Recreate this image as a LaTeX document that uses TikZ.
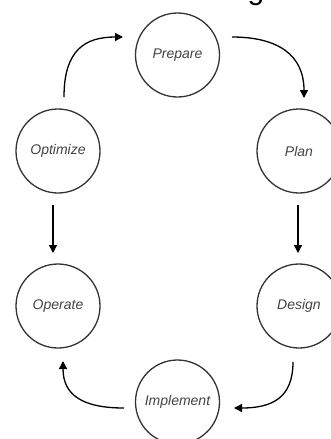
\documentclass[tikz,border=0pt]{standalone}
\usepackage{fontspec}
\setmainfont{Liberation Sans}
\usetikzlibrary{arrows.meta}
\definecolor{ringgray}{HTML}{333333}
\definecolor{textgray}{HTML}{444444}
\tikzset{
  stage/.style={circle, draw=ringgray, line width=1.3pt, minimum size=84pt, inner sep=0pt,
    text=textgray, font=\fontsize{14}{16}\selectfont\itshape},
  flow/.style={draw=black, line width=1.3pt, -{Triangle[length=8pt,width=8pt]}}
}
\begin{document}
\begin{tikzpicture}[x=1pt,y=-1pt]
\useasboundingbox (0,0) rectangle (330,439);
\fill[white] (0,0) rectangle (330,439);
% cropped title fragment
\node[anchor=base, inner sep=0pt, font=\fontsize{30}{32}\selectfont] (title) at (256,-1) {g};
\node[stage] (prepare) at (177.5,55) {Prepare};
\node[stage] (plan) at (299,151) {Plan};
\node[stage] (optimize) at (58,151) {Optimize};
\node[stage] (operate) at (58,306) {Operate};
\node[stage] (design) at (299,306) {Design};
\node[stage] (implement) at (177.5,402) {Implement};
\coordinate (a1s) at (64,97);
\coordinate (a1e) at (123,37);
\coordinate (a2s) at (232,37);
\coordinate (a2e) at (304,98);
\coordinate (a3s) at (298,205);
\coordinate (a3e) at (298,253);
\coordinate (a4s) at (53,205);
\coordinate (a4e) at (53,253);
\coordinate (a5s) at (293,362);
\coordinate (a5e) at (234,408);
\coordinate (a6s) at (124,408);
\coordinate (a6e) at (63,361);
\draw[flow] (a1s) .. controls (64,50) and (85,37) .. (a1e);
\draw[flow] (a2s) .. controls (278,37) and (304,55) .. (a2e);
\draw[flow] (a3s) -- (a3e);
\draw[flow] (a4s) -- (a4e);
\draw[flow] (a5s) .. controls (293,398) and (272,408) .. (a5e);
\draw[flow] (a6s) .. controls (84,408) and (63,396) .. (a6e);
\end{tikzpicture}
\end{document}
